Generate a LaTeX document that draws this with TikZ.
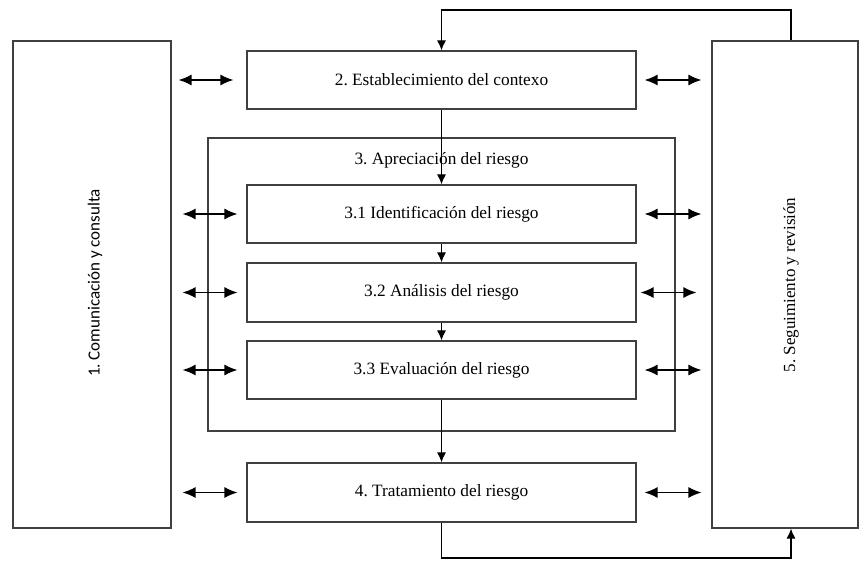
\documentclass[tikz,border=0pt]{standalone}
\usepackage{fontspec}
\setmainfont{Liberation Serif}
\newfontfamily\labelsans{Carlito}
\usetikzlibrary{arrows.meta}
\frenchspacing
\tikzset{
  box/.style={draw=black!75, line width=1.2pt, fill=white, inner sep=0pt, align=center,
    font=\fontsize{17.3}{20}\selectfont},
  conn/.style={draw=black, line width=1.1pt, -{Latex[length=10pt,width=9pt]}},
  dbl/.style={draw=black, line width=1.3pt, {Latex[length=13pt,width=11pt]}-{Latex[length=13pt,width=11pt]}},
  lbl/.style={font=\fontsize{17.3}{20}\selectfont, inner sep=0pt}
}
\begin{document}
\frenchspacing
\begin{tikzpicture}[x=1pt,y=-1pt]
\useasboundingbox (0,0) rectangle (859,561);
% outer assessment box
\node[box, minimum width=467pt, minimum height=293pt] (b3) at (441.5,284.5) {};
\node[lbl] (t3) at (441.5,160) {3. Apreciación del riesgo};
% side boxes
\node[box, minimum width=158pt, minimum height=487pt] (lb) at (92,284.5) {};
\node[lbl, rotate=90, font=\labelsans\fontsize{17}{20}\selectfont] (lt) at (95,283) {1. Comunicación y consulta};
\node[box, minimum width=146pt, minimum height=487pt] (rb) at (785,284.5) {};
\node[lbl, rotate=90, font=\fontsize{17}{20}\selectfont] (rt) at (791,285) {5. Seguimiento y revisión};
% main boxes
\node[box, minimum width=389pt, minimum height=58pt] (b2) at (441.5,80) {2. Establecimiento del contexo};
\node[box, minimum width=389pt, minimum height=58pt] (b31) at (441.5,214) {3.1 Identificación del riesgo};
\node[box, minimum width=389pt, minimum height=59pt] (b32) at (441.5,292.5) {3.2 Análisis del riesgo};
\node[box, minimum width=389pt, minimum height=58pt] (b33) at (441.5,370) {3.3 Evaluación del riesgo};
\node[box, minimum width=389pt, minimum height=59pt] (b4) at (441.5,492.5) {4. Tratamiento del riesgo};
% vertical flow
\draw[conn] (b2.south) -- (b31.north);
\draw[conn] (b31.south) -- (b32.north);
\draw[conn] (b32.south) -- (b33.north);
\draw[conn] (b33.south) -- (b4.north);
% feedback loops
\coordinate (tr) at (791,10);
\coordinate (tl) at (441.5,10);
\draw[conn] (rb.north -| tr) -- (tr) -- (tl) -- (b2.north);
\coordinate (bl) at (441.5,558);
\coordinate (br) at (791,558);
\draw[conn] (b4.south) -- (bl) -- (br) -- (rb.south -| br);
% left double arrows
\draw[dbl, shorten <=7pt, shorten >=13pt] (lb.east |- b2.west) -- (b2.west);
\draw[dbl, shorten <=11pt, shorten >=9pt] (lb.east |- b31.west) -- (b31.west);
\draw[dbl, shorten <=11pt, shorten >=9pt] (lb.east |- b32.west) -- (b32.west);
\draw[dbl, shorten <=11pt, shorten >=9pt] (lb.east |- b33.west) -- (b33.west);
\draw[dbl, shorten <=11pt, shorten >=9pt] (lb.east |- b4.west) -- (b4.west);
% right double arrows
\draw[dbl, shorten <=8pt, shorten >=10pt] (b2.east) -- (rb.west |- b2.east);
\draw[dbl, shorten <=8pt, shorten >=10pt] (b31.east) -- (rb.west |- b31.east);
\draw[dbl, shorten <=4pt, shorten >=15pt] (b32.east) -- (rb.west |- b32.east);
\draw[dbl, shorten <=8pt, shorten >=10pt] (b33.east) -- (rb.west |- b33.east);
\draw[dbl, shorten <=8pt, shorten >=10pt] (b4.east) -- (rb.west |- b4.east);
\end{tikzpicture}
\end{document}
